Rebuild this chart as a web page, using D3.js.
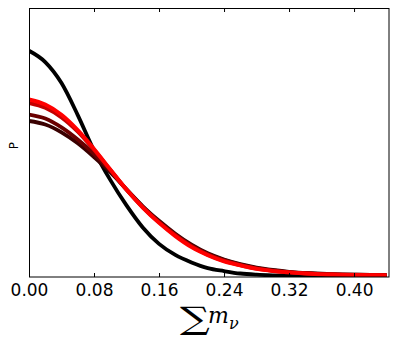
<!DOCTYPE html>
<html>
<head>
<meta charset="utf-8">
<script src="https://cdn.jsdelivr.net/npm/d3@7"></script>
<style>
  body { margin: 0; background: #fff; }
  svg { display: block; font-family: "DejaVu Sans", sans-serif; }
</style>
</head>
<body>
<div id="chart"></div>
<script>
// sum of neutrino masses (eV)
var massGrid = [0.00, 0.02, 0.04, 0.06, 0.08, 0.10, 0.12, 0.14, 0.16, 0.18, 0.20, 0.22,
                0.24, 0.26, 0.28, 0.30, 0.32, 0.34, 0.36, 0.38, 0.40, 0.42, 0.44];

// posteriors
var postBlack   = [0.841, 0.799, 0.721, 0.602, 0.470, 0.361, 0.266, 0.184, 0.123, 0.082, 0.054, 0.033,
                   0.022, 0.013, 0.0085, 0.006, 0.0045, 0.003, 0.002, 0.0015, 0.001, 0.001, 0.001];
var postDarkest = [0.580, 0.567, 0.538, 0.497, 0.446, 0.390, 0.326, 0.263, 0.209, 0.161, 0.120, 0.088,
                   0.065, 0.048, 0.035, 0.026, 0.019, 0.015, 0.012, 0.010, 0.009, 0.008, 0.0075];
var postDark    = [0.604, 0.589, 0.556, 0.511, 0.458, 0.396, 0.325, 0.261, 0.206, 0.158, 0.117, 0.086,
                   0.063, 0.046, 0.033, 0.025, 0.018, 0.014, 0.011, 0.0095, 0.0085, 0.0078, 0.0072];
var postMid     = [0.647, 0.629, 0.593, 0.540, 0.473, 0.399, 0.324, 0.259, 0.203, 0.155, 0.114, 0.083,
                   0.060, 0.044, 0.031, 0.023, 0.0175, 0.0135, 0.0105, 0.0092, 0.008, 0.0072, 0.0067];
var postRed     = [0.660, 0.641, 0.603, 0.546, 0.476, 0.400, 0.325, 0.258, 0.201, 0.152, 0.111, 0.081,
                   0.058, 0.043, 0.030, 0.022, 0.017, 0.013, 0.010, 0.009, 0.0075, 0.0067, 0.0063];

var seriesList  = [postBlack, postDarkest, postDark, postMid, postRed];
var seriesColor = ["#000000", "#3a0000", "#6a0000", "#c40000", "#ff0000"];

var xTicks = [0.00, 0.08, 0.16, 0.24, 0.32, 0.40];

var fullWidth = 398,
    fullHeight = 346,
    margin = {top: 8, right: 9, bottom: 69, left: 29},
    width  = fullWidth - margin.left - margin.right,
    height = fullHeight - margin.top - margin.bottom;

var svg = d3.select("#chart")
    .append("svg")
    .attr("width", fullWidth)
    .attr("height", fullHeight)
    .append("g")
    .attr("transform", "translate(" + margin.left + "," + margin.top + ")");

var xScale = d3.scaleLinear()
    .domain([0, 0.443])
    .range([0, width]);

var yScale = d3.scaleLinear()
    .domain([0, 1])
    .range([height, 0]);

svg.append("defs").append("clipPath")
    .attr("id", "clip")
    .append("rect")
    .attr("width", width)
    .attr("height", height);

var line = d3.line()
    .x(function(d, i) { return xScale(massGrid[i]); })
    .y(function(d) { return yScale(d); })
    .curve(d3.curveMonotoneX);

svg.append("g")
    .attr("clip-path", "url(#clip)")
    .selectAll("path")
    .data(seriesList)
    .enter()
    .append("path")
    .attr("d", line)
    .attr("fill", "none")
    .attr("stroke", function(d, i) { return seriesColor[i]; })
    .attr("stroke-width", 3.8)
    .attr("stroke-linejoin", "round");

// frame
svg.append("rect")
    .attr("x", 0.5)
    .attr("y", 0.5)
    .attr("width", width - 0.5)
    .attr("height", height - 0.5)
    .attr("fill", "none")
    .attr("stroke", "#000")
    .attr("stroke-width", 1);

// bottom axis, ticks pointing in
var xAxis = svg.append("g")
    .attr("transform", "translate(0," + height + ")")
    .call(d3.axisBottom(xScale)
          .tickValues(xTicks)
          .tickSizeInner(-4)
          .tickSizeOuter(0)
          .tickPadding(7)
          .tickFormat(d3.format(".2f")));
xAxis.select(".domain").remove();
xAxis.selectAll("text")
    .attr("font-size", 17)
    .attr("font-family", "DejaVu Sans")
    .attr("fill", "#000");

// top ticks
var topAxis = svg.append("g")
    .call(d3.axisTop(xScale)
          .tickValues(xTicks)
          .tickSizeInner(-4)
          .tickSizeOuter(0)
          .tickFormat(""));
topAxis.select(".domain").remove();

// axis labels
svg.append("text")
    .attr("transform", "translate(" + (-11) + "," + (height / 2 + 3) + ") rotate(-90)")
    .attr("text-anchor", "middle")
    .attr("font-size", 12)
    .attr("font-family", "DejaVu Sans")
    .text("P");

// sum sign, stretched a bit wider like the TeX big operator
svg.append("text")
    .attr("transform", "translate(151," + (height + 52) + ") scale(1.35,1)")
    .attr("font-family", "DejaVu Serif")
    .attr("font-size", 31)
    .text("\u2211");

var xLabel = svg.append("text")
    .attr("x", 179)
    .attr("y", height + 46)
    .attr("font-family", "DejaVu Serif")
    .attr("font-style", "italic");
xLabel.append("tspan")
    .attr("font-size", 22)
    .text("m");
xLabel.append("tspan")
    .attr("font-size", 16)
    .attr("dy", 6)
    .text("\u03bd");
</script>
</body>
</html>
